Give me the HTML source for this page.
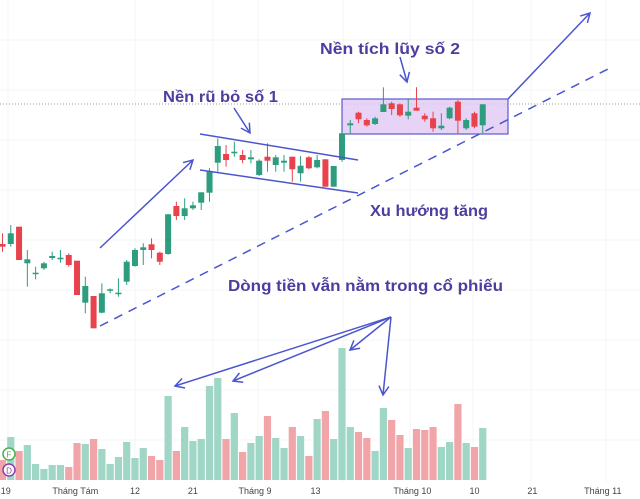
<!DOCTYPE html>
<html><head><meta charset="utf-8"><style>
body{margin:0;background:#fff;}
svg{display:block;font-family:"Liberation Sans","Noto Sans CJK SC",sans-serif;}
</style></head><body>
<svg id="c" width="640" height="499" viewBox="0 0 640 499">
<defs><marker id="ah" markerWidth="12" markerHeight="12" refX="10" refY="6" orient="auto" markerUnits="userSpaceOnUse"><path d="M1,1 L10,6 L1,11" fill="none" stroke="#4b55cf" stroke-width="1.5"/></marker></defs>
<g id="grid"></g>
<line x1="0" y1="104" x2="640" y2="104" stroke="#999" stroke-dasharray="1,2"/>
<rect x="342" y="99" width="166" height="35" fill="#e0c8f2" fill-opacity="0.8" stroke="#5a5ad0" stroke-width="1.2"/>
<g id="vol"></g>
<g id="candles"></g>
<g stroke="#4b55cf" stroke-width="1.5" fill="none">
<line x1="100" y1="248" x2="193" y2="160" marker-end="url(#ah)"/>
<line x1="200" y1="134" x2="358" y2="160"/>
<line x1="200" y1="170" x2="358" y2="193"/>
<line x1="234" y1="108" x2="250" y2="133" marker-end="url(#ah)"/>
<line x1="400" y1="57" x2="407" y2="82" marker-end="url(#ah)"/>
<line x1="508" y1="99" x2="590" y2="13" marker-end="url(#ah)"/>
<line x1="100" y1="326" x2="610" y2="68" stroke-dasharray="9,7"/>
<line x1="391" y1="317" x2="175" y2="386" marker-end="url(#ah)"/>
<line x1="391" y1="317" x2="233" y2="381" marker-end="url(#ah)"/>
<line x1="391" y1="317" x2="350" y2="350" marker-end="url(#ah)"/>
<line x1="391" y1="317" x2="383" y2="395" marker-end="url(#ah)"/>
</g>
<g fill="#4e3d9e" font-size="16" font-weight="bold">
<text x="163" y="102" textLength="115" lengthAdjust="spacingAndGlyphs">Nền rũ bỏ số 1</text>
<text x="320" y="54" textLength="140" lengthAdjust="spacingAndGlyphs">Nền tích lũy số 2</text>
<text x="370" y="216" textLength="118" lengthAdjust="spacingAndGlyphs">Xu hướng tăng</text>
<text x="228" y="291" textLength="275" lengthAdjust="spacingAndGlyphs">Dòng tiền vẫn nằm trong cổ phiếu</text>
</g>
<g>
<circle cx="9" cy="454" r="6" fill="#fff" stroke="#4caf50" stroke-width="1.5"/>
<text x="9" y="457.5" font-size="8" fill="#4caf50" text-anchor="middle">F</text>
<circle cx="9" cy="470" r="6" fill="#fff" stroke="#8e3fa6" stroke-width="1.5"/>
<text x="9" y="473.5" font-size="8" fill="#8e3fa6" text-anchor="middle">D</text>
</g>
<g id="xaxis" font-size="9" fill="#444"></g>
</svg>
<script>
const opens=[15.6,15.6,17.33,13.67,12.6,13.17,14.2,14.07,14.5,13.93,9.73,10.4,8.73,10.93,10.6,11.83,13.4,15,15.57,14.73,14.6,19.4,18.4,19.17,19.73,20.73,23.73,24.6,24.67,24.5,24.07,22.5,24.33,23.5,23.73,24.33,22.67,24.27,23.27,24.07,21.33,24,27.47,28.73,28,27.6,28.8,29.67,29.57,28.43,29.23,28.43,28.17,27.17,28.17,29.83,27.17,28.67,27.47];
const closes=[15.33,16.67,14,14.07,12.73,13.67,14.4,14.23,13.5,10.5,11.4,7.17,10.67,11.07,10.73,13.83,15,15.27,15,13.83,18.57,18.4,19.17,19.47,20.77,22.83,25.4,24,24.83,24,24.27,23.93,23.93,24.27,23.93,23.07,23.43,23.17,24,21.33,23.4,26.67,27.67,28.07,27.47,28.17,29.57,29.1,28.47,28.83,28.93,28.07,27.17,27.43,29.23,27.93,28,27.33,29.57];
const highs=[16.67,17.5,17.33,15,13.33,13.83,14.83,15,14.67,13.93,12.33,10.4,11.67,11.17,12.17,14,15.17,15.67,16.17,14.83,18.6,19.83,20.17,19.83,20.77,23.17,26.17,25.5,25.83,25,25,24.07,25.67,24.5,24.5,24.33,24.4,24.4,24.5,24.07,23.4,26.83,28,28.83,28.17,28.33,31.27,29.83,29.67,30.17,31.27,28.67,28.83,28.67,29.33,30,28.17,28.83,29.57];
const lows=[14.83,15.33,14,11.33,12.07,13,14,13.73,13.33,10.5,8.67,7.17,8.67,10.67,10.33,11.5,13.33,13.5,14.17,13.5,14.53,18,18,19,19,19.83,22.83,23.33,24.33,23.67,23.67,22.4,22.83,22.83,22.83,21.83,21.83,23.07,23.17,21.33,21.33,23.83,26.67,27.67,27.33,27.5,28.8,28.5,28.33,28.07,28.93,27.83,26.83,27,28.07,26.67,27,27.17,26.67];
const volumes=[20,43,29,35,16,11,15,15,13,37,36,41,31,16,23,38,22,32,24,20,84,29,53,39,41,94,102,41,67,28,37,44,64,42,32,53,44,24,61,69,41,132,53,48,42,29,72,60,45,32,51,50,53,33,38,76,37,33,52];
const tickLabels=["19","Tháng Tám","12","21","Tháng 9","13","Tháng 10","10","21","Tháng 11"];
const tickIdx=[0.4,8.8,16,23,30.5,37.8,49.5,57,64,72.5];
const NS='http://www.w3.org/2000/svg';
const xS=i=>2.5+i*8.28;
const yS=p=>400-10*p;
const vS=v=>480-v;
function mk(t,a,parent){const e=document.createElementNS(NS,t);for(const k in a)e.setAttribute(k,a[k]);parent.appendChild(e);return e;}
const grid=document.getElementById('grid');
[8,135,213,258,343,410,473,531,606].forEach(x=>{const l=mk('line',{x1:x,y1:0,x2:x,y2:482,stroke:'#f3f4f6'},grid);

});
[40,90,140,190,240,290,340,390,440].forEach(y=>{const l=mk('line',{x1:0,y1:y,x2:640,y2:y,stroke:'#f3f4f6'},grid);

});
const vg=document.getElementById('vol'),cg=document.getElementById('candles');
for(let i=0;i<opens.length;i++){
 const up=closes[i]>=opens[i];
 const x=xS(i);
 const vb=mk('rect',{x:x-3.6,y:vS(volumes[i]),width:7.2,height:volumes[i],fill:up?'#9fd6c6':'#f2a5a8'},vg);
 
 
 const col=up?'#2e9c7e':'#e8424d';
 const w=mk('line',{x1:x,x2:x,y1:yS(highs[i]),y2:yS(lows[i]),stroke:col,'stroke-width':1},cg);
 
 
 const top=yS(Math.max(opens[i],closes[i])),bot=yS(Math.min(opens[i],closes[i]));
 const b=mk('rect',{x:x-3,y:top,width:6,height:Math.max(1.5,bot-top),fill:col},cg);
 
 
}
const xa=document.getElementById('xaxis');
tickLabels.forEach((t,k)=>{const e=mk('text',{x:xS(tickIdx[k]),y:494,'text-anchor':'middle'},xa);e.textContent=t;

});
</script>
</body></html>
